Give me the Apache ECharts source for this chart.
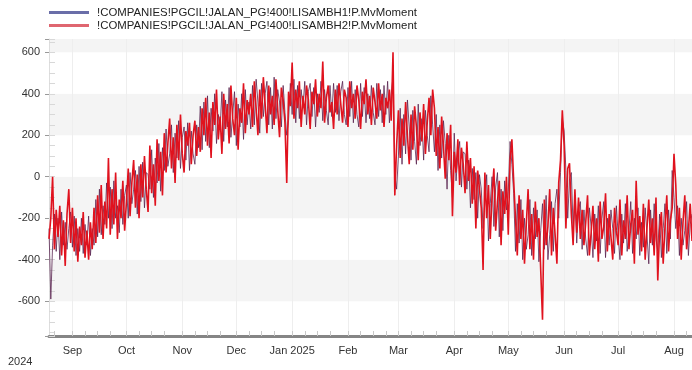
<!DOCTYPE html>
<html>
<head>
<meta charset="utf-8">
<script src="https://cdn.jsdelivr.net/npm/echarts@6/dist/echarts.min.js"></script>
<style>
  html, body { margin: 0; padding: 0; background: #fff; }
  #chart { width: 692px; height: 370px; }
</style>
</head>
<body>
<div id="chart"></div>
<script>
// ---- data (daily, 2024-08-19 .. 2025-08-11) ----
const firstDay = '2024-08-19';
const dayCount = 358;
const monthNames = ['Jan', 'Feb', 'Mar', 'Apr', 'May', 'Jun', 'Jul', 'Aug', 'Sep', 'Oct', 'Nov', 'Dec'];
const tickDays = [1, 8, 15, 22];
const seriesNames = [
  '!COMPANIES!PGCIL!JALAN_PG!400!LISAMBH1!P.MvMoment',
  '!COMPANIES!PGCIL!JALAN_PG!400!LISAMBH2!P.MvMoment',
];
const yTicks = [-600, -400, -200, 0, 200, 400, 600];

// LISAMBH2, one reading per day
const momentH2 = [
  -300, -200, 0, -350, -160, -290, -140, -380, -210, -430, -180, -60, -320,
  -150, -360, -200, -410, -240, -330, -170, -390, -260, -400, -220, -350,
  -150, -320, -90, -270, -40, -300, -120, -250, 90,
  -280, -60, -230, 20, -300, -110, -200, -20, -260,
  -120, 40, -190, -30, 80, -150, 10, -200, 60, -100, 100, -60, -170,
  150, -80, 60, -140, 180, -20, 120, -90,
  210, 20, 160, 280, 40, 190, -30, 250, 80, 300, 110, 20, 220, 150, 260, 60, 200, 270, 100, 240,
  120, 330, 200, 380, 150, 310, 90, 360, 250, 420, 180, 290, 110, 400, 230, 350, 160, 440, 280, 200,
  380, 130, 330, 260, 450, 210, 370, 300,
  400, 240, 460, 330, 200, 420, 280, 480, 350, 210, 440, 300, 390, 250, 470, 320, 190, 430, 370, 260,
  -30, 410, 340,
  550, 280, 420, 330, 460, 240, 390, 300, 440, 370, 230, 410, 350, 470, 290, 400, 330, 555, 260, 380,
  440, 310, 360, 230, 420,
  300, 450, 350, 260, 420, 380, 240, 460, 330, 400, 280, 440, 370, 230, 410, 350, 470, 300, 390, 250,
  430, 360, 280, 450, 320, 400, 240, 380, 330, 420, 270,
  600, -90, 150,
  320, 90, 280, 150, 360, 200, 60, 300, 130, 340, 240, 80, 310, 170, 350, 110, 260, 380, 200, 420,
  330, 100, 240, 40, 290, 150, -10, 210, 80, 250, -190, 120, 20, 180, -40, 140, 60, -80, 170, -20,
  90, -130, 50, -250, 30, -60,
  -150, -450, 20, -200, -40, -300, -90, 40, -260, -120, -20, -330, -70, -180, 0, -280,
  80, 180, -20,
  -200, -380, -90, -300, -160, -420, -230, -60, -350, -180, -400, -120, -290, -200, -450, -690,
  -110, -330, -240, -60, -380, -150, -280, -420, -30, 80,
  320, 150,
  -250, 40, 65, -180, -330, -60, -270, -100, -300,
  -160, -330, -220, -90, -380, -270, -140, -350, -200, -410, -120, -300, -240, -80, -360, -180,
  -290, -400, -150, -260, -330, -110, -380, -210, -300, -90, -350, -230, -160, -420, -20, -280,
  -190, -360, -130, -400, -250, -110, -320, -200, -380, -100, -500, -260, -170, -420, -240, -90,
  -360, -210,
  -150, 110, -40,
  -300, -150, -400, -220, -90, -350, -260, -130, -310,
];

// LISAMBH1, one reading per day
const momentH1 = [
  -250, -590, -330, -180, -360, -200, -400, -170, -330, -220, -350, -250, -170,
  -340, -190, -380, -250, -360, -200, -370, -230, -330, -190, -380, -250,
  -330, -110, -290, -60, -280, -140, -230, -30, -200,
  -50, -250, -20, -200, -140, -270, -60, -230, -90,
  -40, -200, 20, -130, -60, 30, -180, 50, -120, 70, -150, 20, 10,
  -60, 130, -100, 90, -30, 160, -70, 140,
  30, 230, 50, 110, 250, 20, 210, 90, 270, 40, 190, 240, 80, 260, 30, 220, 110, 60, 250, 140,
  340, 130, 360, 170, 390, 140, 330, 220, 400, 160, 300, 230, 410, 170, 370, 240, 430, 190, 300, 410,
  150, 350, 240, 400, 180, 420, 250, 360,
  230, 440, 250, 470, 360, 210, 450, 290, 400, 460, 250, 430, 230, 480, 280, 420, 360, 240, 440, 310,
  200, 270, 450,
  300, 470, 260, 440, 280, 420, 330, 460, 250, 410, 450, 290, 430, 240, 400, 310, 460, 270, 420, 320,
  250, 440, 290, 450, 310,
  440, 270, 410, 460, 300, 250, 430, 290, 460, 260, 420, 300, 240, 450, 290, 430, 260, 400, 280, 440,
  310, 250, 450, 290, 420, 260, 440, 300, 460, 260, 400,
  480, 10, -60,
  100, 330, 60, 300, 110, 370, 240, 80, 320, 170, 60, 350, 150, 280, 80, 320, 200, 120, 390, 250,
  120, 300, 30, 250, 90, 270, 160, -60, 200, 30, -100, 210, -20, 100, 170, -50, 120, 110, -60, 80,
  -150, 40, -110, 20, -200, 10,
  -60, -250, -120, 10, -310, -130, 0, -240, -50, 20, -290, -60, -260, -20, -160, -70,
  170, 60, -80,
  -360, -130, -320, -110, -400, -200, -350, -280, -110, -380, -150, -300, -160, -410, -260, -130,
  -350, -90, -400, -280, -120, -360, -130, -60, -200, 20,
  280, 220,
  30, -200, -10, 20, -250, -90, -320, -160, -120,
  -350, -160, -300, -380, -150, -240, -390, -180, -310, -140, -370, -200, -120, -390, -200, -330,
  -160, -250, -370, -140, -280, -400, -180, -320, -130, -360, -260, -120, -370, -200, -300, -150,
  -380, -220, -340, -150, -280, -420, -160, -330, -130, -300, -360, -180, -390, -250, -130, -370,
  -160, -300,
  30, -100, -250,
  -140, -380, -200, -330, -260, -120, -380, -230, -180,
];

// category list of days
const days = [];
const d0 = new Date(firstDay + 'T00:00:00Z');
for (let i = 0; i < dayCount; i++) {
  const d = new Date(d0.getTime() + i * 86400000);
  days.push(d.toISOString().slice(0, 10));
}

const dayOfMonth = (v) => +v.slice(8, 10);
const isMonthStart = (idx, v) => dayOfMonth(v) === 1;
const font = 'Liberation Sans, Arial, sans-serif';

const chart = echarts.init(document.getElementById('chart'), null, { renderer: 'canvas' });

chart.setOption({
  animation: false,
  textStyle: { fontFamily: font },
  legend: {
    orient: 'vertical',
    left: 49,
    top: 7,
    padding: 0,
    itemWidth: 40,
    itemHeight: 3,
    itemGap: 2,
    icon: 'rect',
    textStyle: { fontSize: 11.4, color: '#222', padding: [0, 0, 0, 3] },
    data: [
      { name: seriesNames[0], itemStyle: { color: '#6a6ea8' } },
      { name: seriesNames[1], itemStyle: { color: '#df6670' } },
    ],
  },
  graphic: [
    {
      type: 'text',
      left: 8,
      top: 356,
      style: { text: '2024', fontSize: 11, fill: '#333', fontFamily: font },
    },
  ],
  grid: { left: 49, right: 0, top: 39, bottom: 34 },
  xAxis: {
    type: 'category',
    data: days,
    boundaryGap: false,
    axisLine: { onZero: false, lineStyle: { color: '#858585', width: 3 } },
    axisTick: {
      inside: true,
      length: 5,
      lineStyle: { color: '#c8c8c8' },
      interval: (idx, v) => tickDays.includes(dayOfMonth(v)),
    },
    axisLabel: {
      interval: isMonthStart,
      margin: 9,
      fontSize: 11,
      color: '#333',
      formatter: (v) => {
        const m = +v.slice(5, 7);
        return m === 1 ? 'Jan ' + v.slice(0, 4) : monthNames[m - 1];
      },
    },
    splitLine: {
      show: true,
      interval: isMonthStart,
      lineStyle: { color: '#eeeeee', width: 1 },
    },
  },
  yAxis: [
    {
      type: 'value',
      min: -768,
      max: 664,
      splitNumber: 7,
      axisLine: { show: true, lineStyle: { color: '#dddddd' } },
      axisTick: { show: true, length: 4, lineStyle: { color: '#999' } },
      axisLabel: {
        margin: 9,
        fontSize: 11,
        color: '#333',
        formatter: (v) => (yTicks.includes(v) ? String(v) : ''),
      },
      splitLine: { show: false },
      splitArea: { show: true, areaStyle: { color: ['#ffffff', '#f4f4f4'] } },
    },
    {
      type: 'value',
      min: -768,
      max: 664,
      splitNumber: 7,
      position: 'left',
      axisLine: { show: false },
      axisTick: { show: true, inside: true, length: 6, lineStyle: { color: '#d8d8d8' } },
      minorTick: { show: true, splitNumber: 4, length: 6, lineStyle: { color: '#d8d8d8' } },
      axisLabel: { show: false },
      splitLine: { show: false },
    },
  ],
  series: [
    {
      name: seriesNames[0],
      type: 'line',
      data: momentH1,
      showSymbol: false,
      symbol: 'none',
      lineStyle: { color: '#5a2450', width: 1, opacity: 0.8 },
      itemStyle: { color: '#5a2450' },
    },
    {
      name: seriesNames[1],
      type: 'line',
      data: momentH2,
      showSymbol: false,
      symbol: 'none',
      lineStyle: { color: '#e0121e', width: 1.6, opacity: 1 },
      itemStyle: { color: '#e0121e' },
    },
  ],
});
</script>
</body>
</html>
